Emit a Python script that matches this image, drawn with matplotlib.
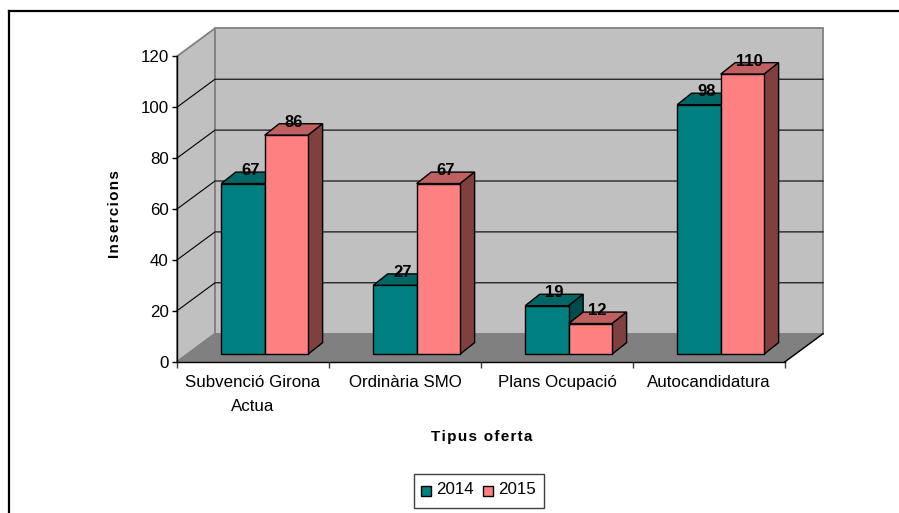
import matplotlib
matplotlib.use('Agg')
import matplotlib.pyplot as plt
from matplotlib.patches import Polygon, Rectangle

plt.rcParams['font.family'] = ['Liberation Sans', 'DejaVu Sans']

categories = ['Subvenció Girona\nActua', 'Ordinària SMO', 'Plans Ocupació', 'Autocandidatura']
values_2014 = [67, 27, 19, 98]
values_2015 = [86, 67, 12, 110]
yticks = [0, 20, 40, 60, 80, 100, 120]

W, H = 899, 513
GREY = '#c0c0c0'
EDGE = '#808080'

# depth of the plot box and of the bars, in data units
WALL_DX, WALL_DY = 0.25, 11.0
BAR_DX, BAR_DY = 0.095, 4.5
BAR_START_X, BAR_START_Y = 0.069, 3.0
BAR_W = 0.286
GROUP_OFFSET = 0.222

fig = plt.figure(figsize=(W / 100, H / 100), dpi=100)
ax = fig.add_axes([177 / W, 1 - 361.7 / H, 608 / W, 305.4 / H])
ax.set_xlim(0, len(categories))
ax.set_ylim(0, 120)
ax.patch.set_visible(False)
for s in ['top', 'right']:
    ax.spines[s].set_visible(False)


def poly(pts, fc, ec='black', lw=1.0, z=2):
    ax.add_patch(Polygon(pts, closed=True, facecolor=fc, edgecolor=ec, linewidth=lw,
                         zorder=z, clip_on=False, joinstyle='miter'))


n = len(categories)
# side wall, back wall, floor
poly([(0, 0), (WALL_DX, WALL_DY), (WALL_DX, 120 + WALL_DY), (0, 120)], GREY, EDGE, 1.3, 1)
poly([(WALL_DX, WALL_DY), (n + WALL_DX, WALL_DY), (n + WALL_DX, 120 + WALL_DY),
      (WALL_DX, 120 + WALL_DY)], GREY, EDGE, 1.3, 1)
poly([(0, 0), (n, 0), (n + WALL_DX, WALL_DY), (WALL_DX, WALL_DY)], EDGE, EDGE, 1.0, 1.2)
ax.plot([n, n + WALL_DX], [0, WALL_DY], color='black', lw=1.0, zorder=1.3, clip_on=False)

# gridlines on side wall and back wall
for t in yticks[1:-1]:
    ax.plot([0, WALL_DX, n + WALL_DX], [t, t + WALL_DY, t + WALL_DY], color='black',
            lw=0.8, zorder=1.5, clip_on=False)


def bar3d(x0, val, front, top, side):
    xl = x0 + BAR_START_X
    xr = xl + BAR_W
    y0 = BAR_START_Y
    y1 = y0 + val
    poly([(xl, y1), (xr, y1), (xr + BAR_DX, y1 + BAR_DY), (xl + BAR_DX, y1 + BAR_DY)], top)
    poly([(xr, y0), (xr + BAR_DX, y0 + BAR_DY), (xr + BAR_DX, y1 + BAR_DY), (xr, y1)], side)
    poly([(xl, y0), (xr, y0), (xr, y1), (xl, y1)], front)
    ax.text(xl + BAR_W / 2 + 0.048, y1 + 5.0, str(val), ha='center', va='center',
            fontsize=12, fontweight='bold', color='black', zorder=5, clip_on=False)


for i in range(n):
    bar3d(i + GROUP_OFFSET, values_2014[i], '#008080', '#006666', '#004c4c')
    bar3d(i + GROUP_OFFSET + BAR_W, values_2015[i], '#ff8080', '#c06060', '#804040')

ax.set_yticks(yticks)
ax.tick_params(axis='y', labelsize=12.2, length=3.5, width=1, pad=2.5)
ax.set_xticks(range(n + 1))
ax.set_xticklabels([])
ax.tick_params(axis='x', length=4, width=1, color='#404040')
for i, c in enumerate(categories):
    ax.annotate(c, xy=(i + 0.5, 0), xycoords='data', xytext=(0, -13), textcoords='offset pixels',
                ha='center', va='top', fontsize=12.2, linespacing=1.77)
for s in ['left', 'bottom']:
    ax.spines[s].set_linewidth(1.0)
    ax.spines[s].set_zorder(3)

# the axis titles are letterspaced in the original
hair = '\u200a'
fig.text(115 / W, 1 - 214 / H, hair.join('Insercions'), rotation=90, ha='center', va='center',
         fontsize=11, fontweight='bold', family=['Liberation Sans', 'DejaVu Sans'])
fig.text(481.5 / W, 1 - 437 / H, hair.join('Tipus oferta'), ha='center', va='center',
         fontsize=11, fontweight='bold', family=['Liberation Sans', 'DejaVu Sans'])

# legend
fig.add_artist(Rectangle((414 / W, 1 - 508 / H), 130 / W, 34 / H, transform=fig.transFigure,
                         facecolor='white', edgecolor='#404040', linewidth=1.0))
for x, label, col in [(421, '2014', '#008080'), (483, '2015', '#ff8080')]:
    fig.add_artist(Rectangle((x / W, 1 - 496 / H), 10 / W, 10 / H, transform=fig.transFigure,
                             facecolor=col, edgecolor='black', linewidth=1.0))
    fig.text((x + 15.5) / W, 1 - 489.5 / H, label, ha='left', va='center', fontsize=12.2)

# outer frame
fig.add_artist(plt.Line2D([9 / W, 9 / W], [0, 1 - 11 / H], color='black', lw=1.6))
fig.add_artist(plt.Line2D([9 / W, 1], [1 - 11 / H, 1 - 11 / H], color='black', lw=1.6))

fig.savefig('out.png', dpi=100)
